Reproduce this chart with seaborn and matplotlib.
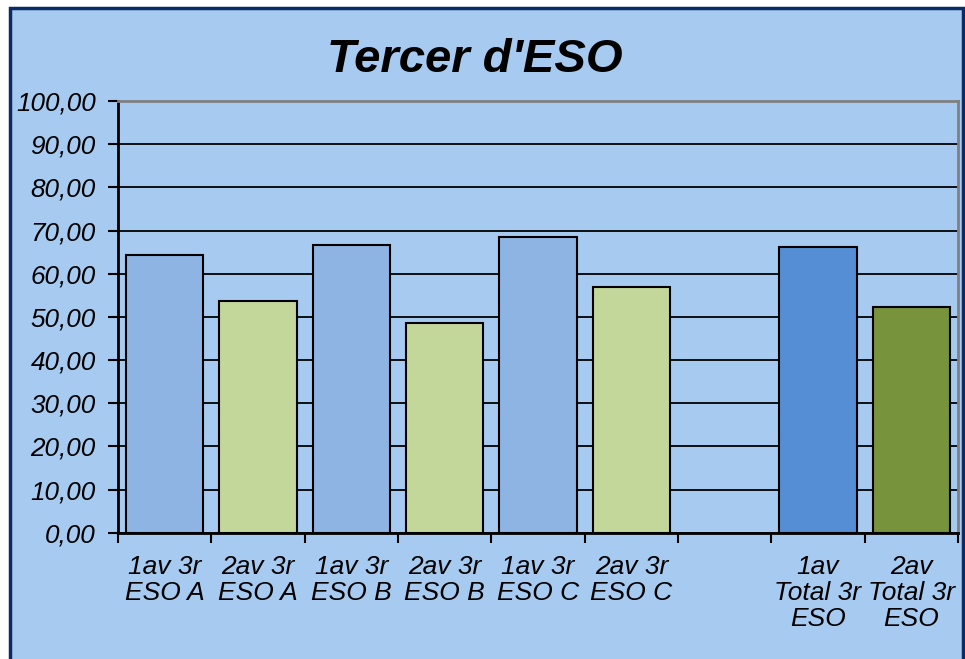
import matplotlib
matplotlib.use("Agg")
import matplotlib.pyplot as plt
import seaborn as sns
import numpy as np
import pandas as pd
from matplotlib.patches import Rectangle
from matplotlib.ticker import FixedLocator, FuncFormatter

# Data
categories = ["1av 3r\nESO A", "2av 3r\nESO A", "1av 3r\nESO B", "2av 3r\nESO B",
              "1av 3r\nESO C", "2av 3r\nESO C", " ",
              "1av\nTotal 3r\nESO", "2av\nTotal 3r\nESO"]
values = [64.4, 53.7, 66.7, 48.6, 68.5, 56.9, np.nan, 66.1, 52.3]
bar_colors = ["#8EB4E3", "#C4D79B", "#8EB4E3", "#C4D79B",
              "#8EB4E3", "#C4D79B", "#8EB4E3", "#558ED5", "#77933C"]
title = "Tercer d'ESO"

bg = "#A6CAF0"
sns.set_style("white")
plt.rcParams["font.family"] = ["Liberation Sans", "DejaVu Sans"]
plt.rcParams["text.color"] = "black"
plt.rcParams["xtick.color"] = "black"
plt.rcParams["ytick.color"] = "black"

df = pd.DataFrame({"cat": categories, "val": values})
df = df.dropna()

fig = plt.figure(figsize=(9.65, 6.59), dpi=100)
fig.patch.set_facecolor("white")
# outer chart frame
fig.patches.append(Rectangle((10 / 965, -0.05), 953 / 965, 1.05 - 8 / 659,
                             transform=fig.transFigure, facecolor=bg,
                             edgecolor="#0B2A66", linewidth=2.5, zorder=-5))

ax = fig.add_axes([118 / 965, 1 - 532.7 / 659, 840 / 965, (532.7 - 101) / 659])
ax.set_facecolor(bg)

sns.barplot(data=df, x="cat", y="val", hue="cat", order=categories,
            hue_order=categories, palette=dict(zip(categories, bar_colors)),
            saturation=1, width=0.83, edgecolor="black", linewidth=1.5,
            legend=False, ax=ax, zorder=3)

ax.set_xlim(-0.5, len(categories) - 0.5)
ax.set_ylim(0, 100)
ax.set_yticks(np.arange(0, 101, 10))
ax.yaxis.set_major_formatter(FuncFormatter(lambda v, p: f"{v:.2f}".replace(".", ",")))
ax.yaxis.grid(True, color="black", linewidth=1.3, zorder=1)
ax.set_axisbelow(True)

# category boundaries as tick marks, labels centred
ax.xaxis.set_minor_locator(FixedLocator(np.arange(-0.5, len(categories), 1.0)))
ax.tick_params(axis="x", which="both", bottom=True)
ax.tick_params(axis="y", which="both", left=True)
ax.tick_params(axis="x", which="major", length=0, pad=16)
ax.tick_params(axis="x", which="minor", length=7, width=1.5, color="black", direction="out")
ax.tick_params(axis="y", which="major", length=7, width=1.5, color="black", direction="out", pad=9)
for lab in ax.get_xticklabels():
    lab.set_fontsize(19)
    lab.set_fontstyle("italic")
    lab.set_linespacing(1.1)
for lab in ax.get_yticklabels():
    lab.set_fontsize(18.8)
    lab.set_fontstyle("italic")

ax.set_xlabel(None)
ax.set_ylabel(None)
for side in ["left", "bottom"]:
    ax.spines[side].set_color("black")
    ax.spines[side].set_linewidth(2)
for side in ["top", "right"]:
    ax.spines[side].set_color("#808080")
    ax.spines[side].set_linewidth(2)
    ax.spines[side].set_visible(True)

fig.text(475 / 965, 1 - 60 / 659, title, ha="center", va="center",
         fontsize=34, fontweight="bold", fontstyle="italic", color="black")

plt.savefig("out.png", dpi=100)
plt.close()
